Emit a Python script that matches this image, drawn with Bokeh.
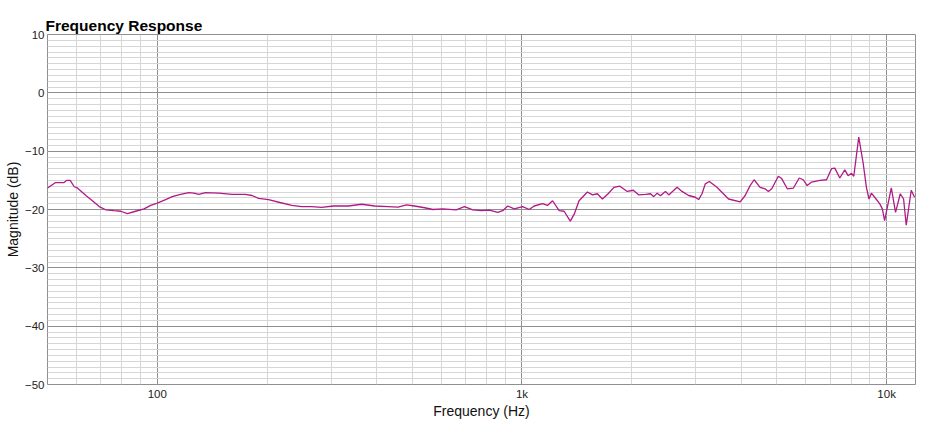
from bokeh.plotting import figure
from bokeh.models import FixedTicker, ColumnDataSource
from bokeh.embed import file_html
from bokeh.resources import INLINE

freq_hz = [50, 52.5, 55.4, 56.5, 57.7, 59.2, 60.4, 63.7, 66.4, 69.3, 72.2, 76.1, 79.4, 82.8, 87.2,
           92.0, 95.9, 100, 105.4, 109.9, 115.8, 122.1, 126.0, 130.0, 135.5, 147.5, 160.3, 174.3,
           181.8, 189.6, 202, 216.8, 233.8, 249, 265.2, 282.4, 304, 334.1, 363.3, 394.9, 429.7,
           457.6, 482.2, 507.9, 540.9, 570.2, 607.2, 660.1, 695.5, 733.3, 772.7, 814.1, 858.2,
           885.7, 914, 952.8, 1004, 1047, 1080, 1139, 1175, 1213, 1265, 1305, 1357, 1391, 1434,
           1512, 1561, 1610, 1662, 1723, 1787, 1856, 1945, 2020, 2092, 2182, 2252, 2299, 2349,
           2398, 2474, 2527, 2663, 2748, 2865, 2988, 3051, 3117, 3182, 3264, 3425, 3686, 3967,
           4093, 4224, 4331, 4498, 4642, 4740, 4842, 5047, 5156, 5341, 5546, 5759, 5906, 6056,
           6227, 6560, 6843, 7062, 7210, 7441, 7678, 7841, 8010, 8127, 8386, 8616, 8802, 8947,
           9084, 9275, 9570, 9734, 9874, 10300, 10580, 10900, 11130, 11320, 11680, 11930]
magnitude_db = [-16.3, -15.4, -15.4, -15.0, -15.0, -16.1, -16.3, -17.6, -18.5, -19.5, -20.05, -20.2,
                -20.3, -20.7, -20.3, -19.9, -19.3, -18.9, -18.3, -17.8, -17.4, -17.1, -17.2, -17.4,
                -17.1, -17.2, -17.4, -17.4, -17.6, -18.1, -18.3, -18.8, -19.3, -19.5, -19.5, -19.65,
                -19.4, -19.4, -19.1, -19.4, -19.5, -19.6, -19.2, -19.4, -19.7, -20.0, -19.9, -20.05,
                -19.5, -20.05, -20.2, -20.1, -20.5, -20.2, -19.4, -19.9, -19.5, -20.0, -19.4, -19.0,
                -19.3, -18.5, -20.2, -20.3, -22.0, -20.8, -18.5, -17.0, -17.5, -17.3, -18.2, -17.3,
                -16.2, -16.0, -16.9, -16.7, -17.5, -17.4, -17.3, -17.8, -17.2, -17.65, -16.9, -17.5,
                -16.2, -16.9, -17.6, -17.9, -18.3, -17.3, -15.6, -15.2, -16.2, -18.2, -18.7, -17.6,
                -15.9, -14.9, -16.2, -16.45, -16.9, -16.45, -14.3, -14.7, -16.45, -16.35, -14.6,
                -14.9, -15.9, -15.3, -15.0, -14.9, -13.0, -12.9, -14.6, -13.2, -14.2, -13.8, -14.3,
                -7.6, -11.9, -16.2, -18.2, -17.2, -17.9, -19.0, -19.9, -21.9, -16.3, -20.5, -17.3,
                -18.2, -22.7, -16.7, -17.9]

x_major = [100, 1000, 10000]
x_labels = {100: "100", 1000: "1k", 10000: "10k"}
x_minor = [50, 60, 70, 80, 90, 200, 300, 400, 500, 600, 700, 800, 900,
           2000, 3000, 4000, 5000, 6000, 7000, 8000, 9000]
y_major = [-50, -40, -30, -20, -10, 0, 10]
y_minor = list(range(-50, 11))

src = ColumnDataSource(data=dict(f=freq_hz, m=magnitude_db))

p = figure(width=947, height=424, x_axis_type="log", x_range=(50, 12000), y_range=(-50, 10),
           output_backend="svg", toolbar_location=None,
           min_border_left=47, min_border_right=32, min_border_top=34, min_border_bottom=40)
p.title.text = "Frequency Response"
p.title.text_font = "Liberation Sans"
p.title.text_font_size = "15.5px"
p.title.text_font_style = "bold"
p.title.text_color = "#000000"
p.title.align = "left"
p.title.offset = -2
p.title.standoff = 2

p.xaxis.ticker = FixedTicker(ticks=x_major, minor_ticks=x_minor)
p.yaxis.ticker = FixedTicker(ticks=y_major, minor_ticks=y_minor)
p.xaxis.major_label_overrides = x_labels

for ax in (p.xaxis, p.yaxis):
    ax.axis_line_color = None
    ax.major_tick_out = 0
    ax.major_tick_in = 0
    ax.minor_tick_out = 0
    ax.minor_tick_in = 0
    ax.major_label_text_font = "Liberation Sans"
    ax.major_label_text_font_size = "11.5px"
    ax.major_label_text_color = "#222222"
    ax.axis_label_text_font = "Liberation Sans"
    ax.axis_label_text_font_size = "14px"
    ax.axis_label_text_font_style = "normal"
    ax.axis_label_text_color = "#111111"

p.xaxis.axis_label = "Frequency (Hz)"
p.yaxis.axis_label = "Magnitude (dB)"
p.xaxis.major_label_standoff = 3
p.xaxis.axis_label_standoff = 0
p.yaxis.major_label_standoff = 3
p.yaxis.axis_label_standoff = 1

for g in (p.xgrid, p.ygrid):
    g.grid_line_color = "#8f8f8f"
    g.grid_line_width = 1
    g.minor_grid_line_color = "#d6d6d6"
    g.minor_grid_line_width = 1

p.outline_line_color = "#8f8f8f"
p.outline_line_width = 1
p.background_fill_color = "white"
p.border_fill_color = "white"

p.line("f", "m", source=src, line_color="#b01a87", line_width=1.3)

open("out.html", "w").write(file_html(p, INLINE))
